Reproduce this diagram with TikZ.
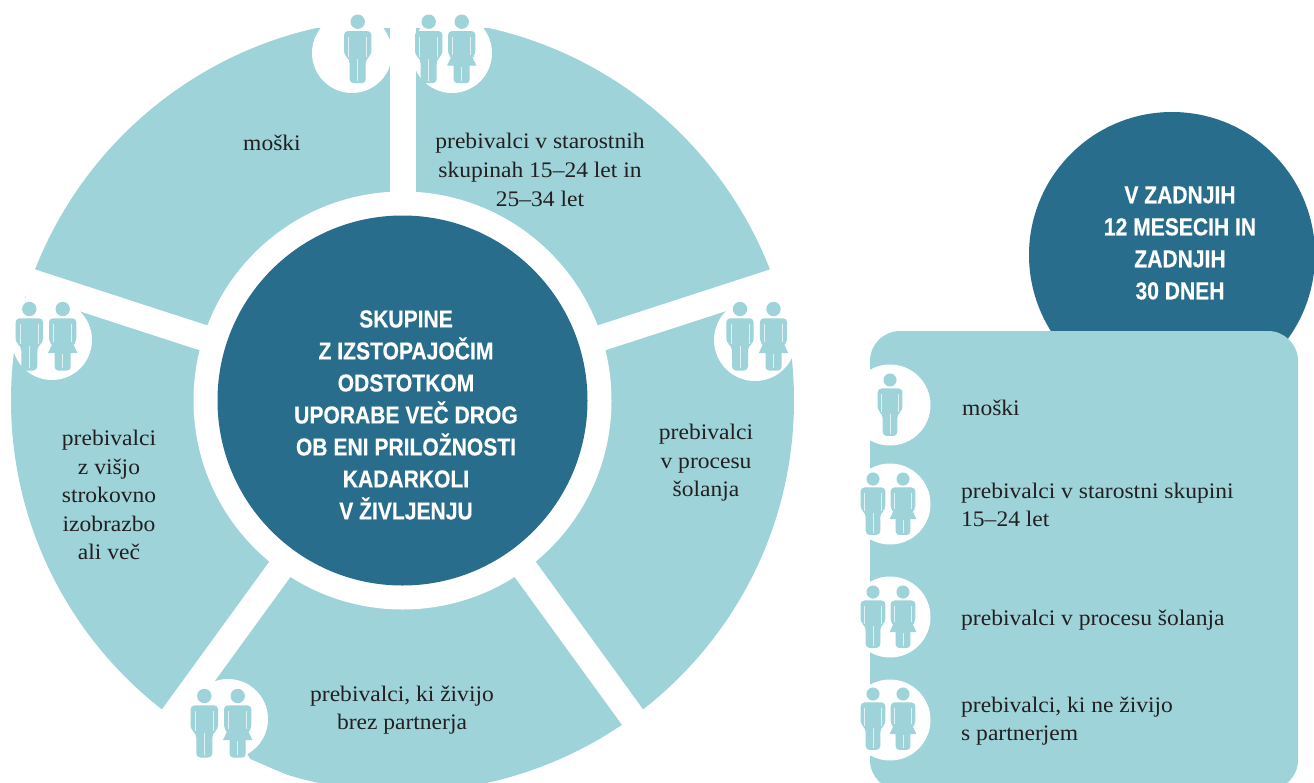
\documentclass[tikz,border=0pt]{standalone}
\usepackage{fontspec}
\setmainfont[FakeStretch=1.06]{Liberation Serif}
\newfontfamily\headfont[FakeStretch=0.86,BoldFeatures={FakeBold=0.4}]{Liberation Sans}
\definecolor{lightteal}{HTML}{9DD3D9}
\definecolor{deepblue}{HTML}{286E8C}
\definecolor{inkdark}{HTML}{231F20}
\tikzset{
  bodytext/.style={text=inkdark,font=\fontsize{22.2}{28.6}\selectfont,align=center,inner sep=0pt},
  paneltext/.style={text=inkdark,font=\fontsize{22.2}{28.6}\selectfont,align=left,anchor=west,inner sep=0pt},
  headtext/.style={text=white,font=\headfont\bfseries\fontsize{24.5}{32}\selectfont,align=center,inner sep=0pt},
  slit/.style={white,opacity=.7,line width=.7pt},
  man/.pic={
    \fill[lightteal] (0,0) circle (7.2);
    \fill[lightteal,rounded corners=4pt] (-13.7,9.3) -- (13.7,9.3) -- (13.7,33.5) -- (8,37.5) -- (8,61.5) -- (-8,61.5) -- (-8,37.5) -- (-13.7,33.5) -- cycle;
    \draw[slit] (-9,15) -- (-9,35) (9,15) -- (9,35) (0,37) -- (0,59);
  },
  woman/.pic={
    \fill[lightteal] (0,0) circle (7.2);
    \fill[lightteal,rounded corners=4pt] (-13.7,9.3) -- (13.7,9.3) -- (13.7,33) -- (9.5,37) -- (-9.5,37) -- (-13.7,33) -- cycle;
    \fill[lightteal] (-10,34) -- (10,34) -- (14.7,44) -- (-14.7,44) -- cycle;
    \fill[lightteal,rounded corners=3.5pt] (-8,40) -- (8,40) -- (8,61.5) -- (-8,61.5) -- cycle;
    \draw[slit] (-9,15) -- (-9,33) (9,15) -- (9,33) (0,45) -- (0,59);
  },
}
\begin{document}
\begin{tikzpicture}[x=1pt,y=-1pt]
\useasboundingbox (0,0) rectangle (1314,782);
\clip (0,0) rectangle (1314,782);
% wheel
\coordinate (hub) at (402.5,400.5);
\coordinate (hublow) at (402.5,402.5);
\fill[lightteal] (hub) circle (391.5);
% flatter upper arc of the two top segments
\begin{scope}
  \clip (0,0) rectangle (800,272);
  \fill[white,even odd rule] (-10,-10) rectangle (810,280) (402.5,413) circle (394.5);
\end{scope}
\foreach \a in {90,-54,-126}
  \draw[white,line width=26pt] (hub) -- ++(\a:-420);
\foreach \a in {18,162}
  \draw[white,line width=26pt] (hublow) -- ++(\a:-420);
\fill[white] (hub) circle (209);
\fill[deepblue] (hub) circle (185);
% icon discs on the wheel, with the white left open round them
\fill[white] (300,0) rectangle (500,27.7);
\fill[white] (352,53) circle (40);
\fill[white] (452,53) circle (40);
\fill[white] (755,340) circle (41);
\fill[white] (745,292) -- (810,270) -- (810,340) -- (755,340) -- cycle;
\fill[white] (52,340) circle (40);
\fill[white] (60,296) -- (0,276) -- (0,340) -- (52,340) -- cycle;
\fill[white] (228,719) circle (40);
\fill[white] (228,719) -- (250,759) -- (345,800) -- (150,800) -- (170,713) -- cycle;
\fill[lightteal] (25.5,297) circle (.7);
\pic at (357.7,21.7) {man};
\pic at (428.7,21.7) {man};
\pic at (461.7,21.7) {woman};
\pic at (740,309) {man};
\pic at (773.5,309) {woman};
\pic at (29.3,309) {man};
\pic at (62.7,309) {woman};
\pic at (204.3,696) {man};
\pic at (237.7,696) {woman};
% right panel
\fill[deepblue] (1172,255) circle (143);
\fill[lightteal,rounded corners=30pt] (870,331) rectangle (1298,790);
\foreach \y in {405,504,617,720}
  \fill[white] (890,\y) circle (40.5);
\pic[scale=.91] at (890,380) {man};
\foreach \y in {479,592,694}{
  \pic[scale=.91] at (873,\y) {man};
  \pic[scale=.91] at (903,\y) {woman};
}
% texts
\node[headtext] (hubtext) at (406,415) {SKUPINE\\Z IZSTOPAJOČIM\\ODSTOTKOM\\UPORABE VEČ DROG\\OB ENI PRILOŽNOSTI\\KADARKOLI\\V ŽIVLJENJU};
\node[headtext] (periodtext) at (1180,243) {V ZADNJIH\\12 MESECIH IN\\ZADNJIH\\30 DNEH};
\node[bodytext] (t1) at (272,143) {moški};
\node[bodytext] (t2) at (540,170) {prebivalci v starostnih\\skupinah 15–24 let in\\25–34 let};
\node[bodytext] (t3) at (706,463) {prebivalci\\v procesu\\šolanja};
\node[bodytext] (t4) at (109,495) {prebivalci\\z višjo\\strokovno\\izobrazbo\\ali več};
\node[bodytext] (t5) at (402,710) {prebivalci, ki živijo\\brez partnerja};
\node[paneltext] (p1) at (962,408) {moški};
\node[paneltext] (p2) at (961,505) {prebivalci v starostni skupini\\15–24 let};
\node[paneltext] (p3) at (961,620) {prebivalci v procesu šolanja};
\node[paneltext] (p4) at (961,721) {prebivalci, ki ne živijo\\s partnerjem};
\end{tikzpicture}
\end{document}
